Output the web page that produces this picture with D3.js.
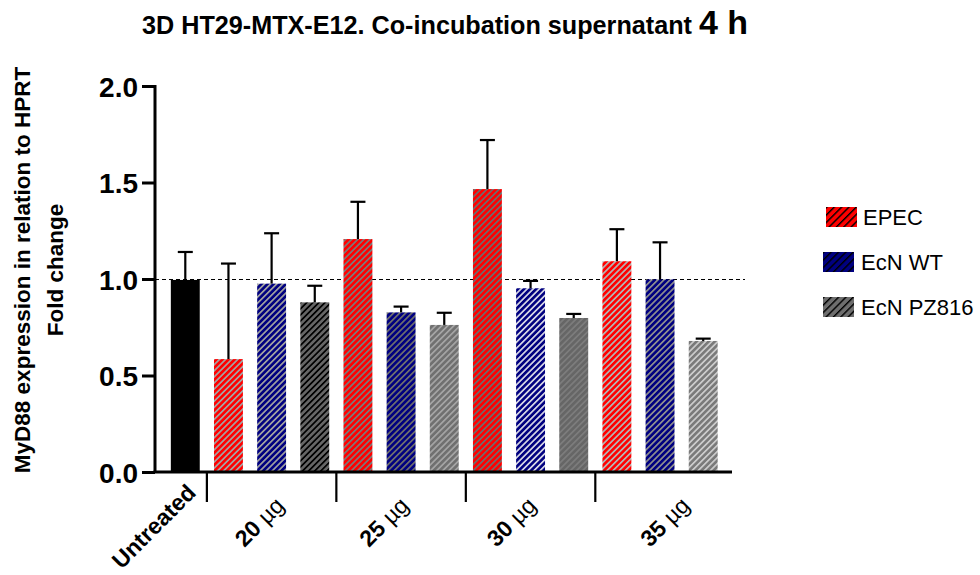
<!DOCTYPE html>
<html>
<head>
<meta charset="utf-8">
<script src="https://cdn.jsdelivr.net/npm/d3@7"></script>
<style>
  body { margin: 0; background: #fff; }
  svg { display: block; font-family: "Liberation Sans", Arial, sans-serif; }
</style>
</head>
<body>
<svg id="chart" width="980" height="575"></svg>
<script>
// Group labels along the x axis
const groupLabels = ["Untreated", "20", "25", "30", "35"];
const series = ["EPEC", "EcN WT", "EcN PZ816"];

// Untreated control
const untreatedMean = 0.995;
const untreatedUpper = 1.14;

// Means and upper error bar ends, one value per dose (20, 25, 30, 35 µg)
const epecMean = [0.585, 1.207, 1.466, 1.092];
const epecUpper = [1.08, 1.40, 1.72, 1.258];
const wtMean = [0.976, 0.827, 0.952, 0.998];
const wtUpper = [1.237, 0.857, 0.99, 1.19];
const pzMean = [0.879, 0.762, 0.798, 0.679];
const pzUpper = [0.965, 0.825, 0.819, 0.691];

const yTicks = [0, 0.5, 1.0, 1.5, 2.0];

// flatten to one row per bar
const bars = [{ id: "u", mean: untreatedMean, upper: untreatedUpper }];
for (let g = 0; g < 4; g++) {
  bars.push({ id: "e" + g, mean: epecMean[g], upper: epecUpper[g] });
  bars.push({ id: "w" + g, mean: wtMean[g], upper: wtUpper[g] });
  bars.push({ id: "p" + g, mean: pzMean[g], upper: pzUpper[g] });
}

// each bar has its own stripe tint (fill, stripe)
const barStyle = {
  u: ["#000000", "#000000"],
  e0: ["#ff0000", "#a3a3a3"], w0: ["#000080", "#a0a0a0"], p0: ["#666666", "#000000"],
  e1: ["#ff0000", "#7a7a7a"], w1: ["#000080", "#6e6e6e"], p1: ["#707070", "#a4a4a4"],
  e2: ["#ff0000", "#6c6c6c"], w2: ["#000080", "#d4d4e4"], p2: ["#666666", "#7c7c7c"],
  e3: ["#ff0000", "#b4b4b4"], w3: ["#000080", "#8e8e8e"], p3: ["#7a7a7a", "#cbcbcb"]
};
const legendStyle = [["#ff0000", "#000000"], ["#000080", "#000000"], ["#6e6e6e", "#000000"]];

const svg = d3.select("#chart");
const defs = svg.append("defs");

function stripes(id, bg, fg, period, width) {
  const p = defs.append("pattern")
    .attr("id", id)
    .attr("patternUnits", "userSpaceOnUse")
    .attr("width", period)
    .attr("height", period)
    .attr("patternTransform", "rotate(45)");
  p.append("rect").attr("width", period).attr("height", period).attr("fill", bg);
  p.append("rect").attr("width", width).attr("height", period).attr("fill", fg);
}

bars.forEach(b => stripes("pat-" + b.id, barStyle[b.id][0], barStyle[b.id][1], 4.3, 1.7));
legendStyle.forEach((s, i) => stripes("leg-" + i, s[0], s[1], 5.2, 1.4));

// scales
const x = d3.scaleBand()
  .domain(d3.range(bars.length))
  .range([163.5, 725])
  .paddingInner(0.33)
  .paddingOuter(0.17);

const y = d3.scaleLinear().domain([0, 2]).range([472, 86]);

// title
const title = svg.append("text")
  .attr("x", 142)
  .attr("y", 34)
  .attr("fill", "#000")
  .attr("font-weight", "bold");
title.append("tspan")
  .attr("font-size", 25.2)
  .text("3D HT29-MTX-E12. Co-incubation supernatant ");
title.append("tspan")
  .attr("font-size", 34)
  .text("4 h");

// reference line at 1.0
svg.append("line")
  .attr("x1", 155).attr("x2", 745)
  .attr("y1", y(1) + 0.5).attr("y2", y(1) + 0.5)
  .attr("stroke", "#000")
  .attr("stroke-width", 1)
  .attr("stroke-dasharray", "4,3");

// bars
svg.append("g")
  .selectAll("rect")
  .data(bars)
  .join("rect")
  .attr("x", (d, i) => x(i))
  .attr("y", d => y(d.mean))
  .attr("width", x.bandwidth())
  .attr("height", d => y(0) - y(d.mean))
  .attr("fill", d => `url(#pat-${d.id})`);

// upper error bars
const err = svg.append("g")
  .attr("stroke", "#000")
  .attr("stroke-width", 2.2);
bars.forEach((b, i) => {
  const cx = x(i) + x.bandwidth() / 2;
  err.append("line")
    .attr("x1", cx).attr("x2", cx)
    .attr("y1", y(b.mean)).attr("y2", y(b.upper));
  err.append("line")
    .attr("x1", cx - 7.5).attr("x2", cx + 7.5)
    .attr("y1", y(b.upper)).attr("y2", y(b.upper));
});

// y axis
const yAxis = svg.append("g")
  .attr("transform", "translate(155,0)")
  .call(d3.axisLeft(y).tickValues(yTicks).tickFormat(d3.format(".1f")).tickSize(13).tickPadding(4));
yAxis.select(".domain").attr("stroke-width", 3).attr("d", `M0,${y(2) - 1}V${y(0)}`);
yAxis.selectAll(".tick line").attr("stroke-width", 3);
yAxis.selectAll(".tick text")
  .attr("font-size", 28)
  .attr("font-weight", "bold")
  .attr("fill", "#000")
  .attr("dy", "0.36em");

// x axis baseline
svg.append("line")
  .attr("x1", 153.5).attr("x2", 732)
  .attr("y1", y(0)).attr("y2", y(0))
  .attr("stroke", "#000")
  .attr("stroke-width", 3);

// group separators below the axis
const groupEdges = [[0, 0], [1, 3], [4, 6], [7, 9], [10, 12]];
const sepX = groupEdges.slice(1).map(([a]) => (x(a - 1) + x.bandwidth() + x(a)) / 2);
svg.append("g")
  .selectAll("line")
  .data(sepX)
  .join("line")
  .attr("x1", d => d).attr("x2", d => d)
  .attr("y1", y(0)).attr("y2", y(0) + 30)
  .attr("stroke", "#000")
  .attr("stroke-width", 2.2);

// rotated group labels
const labelNudge = [12, 14, 9, 7, 31];
const xl = svg.append("g")
  .selectAll("text")
  .data(groupLabels)
  .join("text")
  .attr("transform", (d, i) => {
    const [a, b] = groupEdges[i];
    const cx = (x(a) + x(b) + x.bandwidth()) / 2 + labelNudge[i];
    return `translate(${cx},${i === 0 ? 494 : 507}) rotate(-45)`;
  })
  .attr("text-anchor", "end")
  .attr("font-size", 23)
  .attr("font-weight", "bold")
  .attr("fill", "#000");
xl.each(function (d, i) {
  const t = d3.select(this);
  if (i === 0) {
    t.text(d);
  } else {
    t.append("tspan").text(d + " ");
    t.append("tspan").attr("font-weight", "normal").text("\u00b5g");
  }
});

// y axis title
const yTitle = svg.append("text")
  .attr("transform", "translate(0,270) rotate(-90)")
  .attr("text-anchor", "middle")
  .attr("font-size", 22.5)
  .attr("font-weight", "bold")
  .attr("fill", "#000");
yTitle.append("tspan").attr("x", 0).attr("y", 30).text("MyD88 expression in relation to HPRT");
yTitle.append("tspan").attr("x", 0).attr("y", 63).text("Fold change");

// legend
const legend = svg.append("g")
  .selectAll("g")
  .data(series)
  .join("g")
  .attr("transform", (d, i) => `translate(${i === 0 ? 826 : 823},${207 + i * 45})`);
legend.append("rect")
  .attr("width", 31)
  .attr("height", 20)
  .attr("fill", (d, i) => `url(#leg-${i})`);
legend.append("text")
  .attr("x", (d, i) => (i === 0 ? 37 : 38))
  .attr("y", 18)
  .attr("font-size", 22)
  .attr("fill", "#000")
  .text(d => d);
</script>
</body>
</html>
